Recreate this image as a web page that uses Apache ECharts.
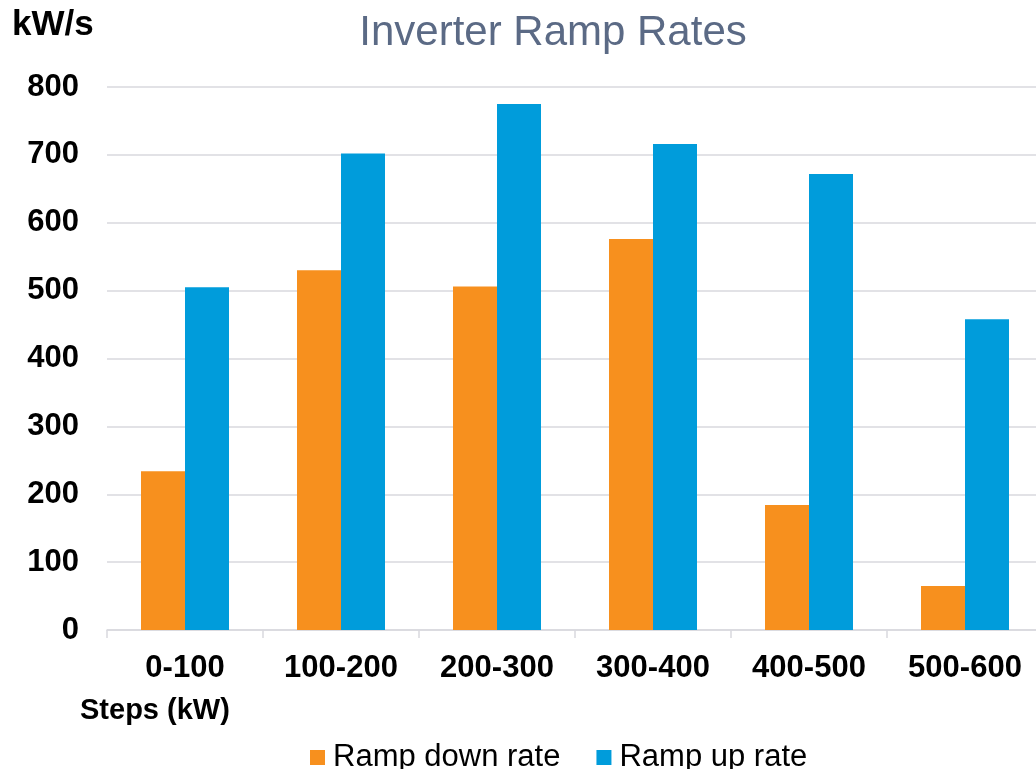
<!DOCTYPE html>
<html>
<head>
<meta charset="utf-8">
<script src="https://cdn.jsdelivr.net/npm/echarts@6/dist/echarts.min.js"></script>
<style>
  html, body { margin: 0; padding: 0; background: #fff; overflow: hidden; }
  /* the plot runs slightly past the right edge of the window */
  #chart { width: 1043px; height: 769px; }
</style>
</head>
<body>
<div id="chart"></div>
<script>
// Step ranges (kW) along the x axis
const categories = ['0-100', '100-200', '200-300', '300-400', '400-500', '500-600'];
// Ramp rates in kW/s
const rampDown = [234, 530, 506, 576, 184, 65];
const rampUp = [505, 702, 775, 716, 672, 458];
const seriesNames = ['Ramp down rate', 'Ramp up rate'];

const FONT = '"Liberation Sans", Arial, sans-serif';
const chart = echarts.init(document.getElementById('chart'));

chart.setOption({
  animation: false,
  textStyle: { fontFamily: FONT },
  title: {
    text: 'Inverter Ramp Rates',
    left: 548,
    textAlign: 'center',
    top: 7,
    textStyle: { fontFamily: FONT, fontSize: 42, fontWeight: 'normal', color: '#5B6A85' }
  },
  graphic: [
    { type: 'text', left: 12, top: 8, style: { text: 'kW/s', font: 'bold 35px ' + FONT, fill: '#000' } },
    { type: 'text', left: 80, top: 696, style: { text: 'Steps (kW)', font: 'bold 29px ' + FONT, fill: '#000' } }
  ],
  legend: {
    top: 737,
    left: 305,
    itemWidth: 15,
    itemHeight: 15,
    itemGap: 36,
    icon: 'rect',
    textStyle: { fontFamily: FONT, fontSize: 31, color: '#000', padding: [0, 0, 0, 3] },
    data: seriesNames
  },
  grid: { left: 107, right: 0, top: 87, bottom: 139 },
  xAxis: {
    type: 'category',
    data: categories,
    axisLine: { lineStyle: { color: '#D9D9DE', width: 1.5 } },
    axisTick: { show: true, length: 8, lineStyle: { color: '#D9D9DE', width: 1.5 } },
    axisLabel: { fontFamily: FONT, fontSize: 31, fontWeight: 'bold', color: '#000', margin: 23 }
  },
  yAxis: {
    type: 'value',
    min: 0,
    max: 800,
    interval: 100,
    axisLine: { show: false },
    axisTick: { show: false },
    splitLine: { lineStyle: { color: '#D9D9DE', width: 1.5 } },
    axisLabel: { fontFamily: FONT, fontSize: 31, fontWeight: 'bold', color: '#000', margin: 28 }
  },
  series: [
    {
      name: seriesNames[0],
      type: 'bar',
      data: rampDown,
      barWidth: 44,
      barGap: '0%',
      itemStyle: { color: '#F7901E' }
    },
    {
      name: seriesNames[1],
      type: 'bar',
      data: rampUp,
      barWidth: 44,
      barGap: '0%',
      itemStyle: { color: '#009CDB' }
    }
  ]
});
</script>
</body>
</html>
